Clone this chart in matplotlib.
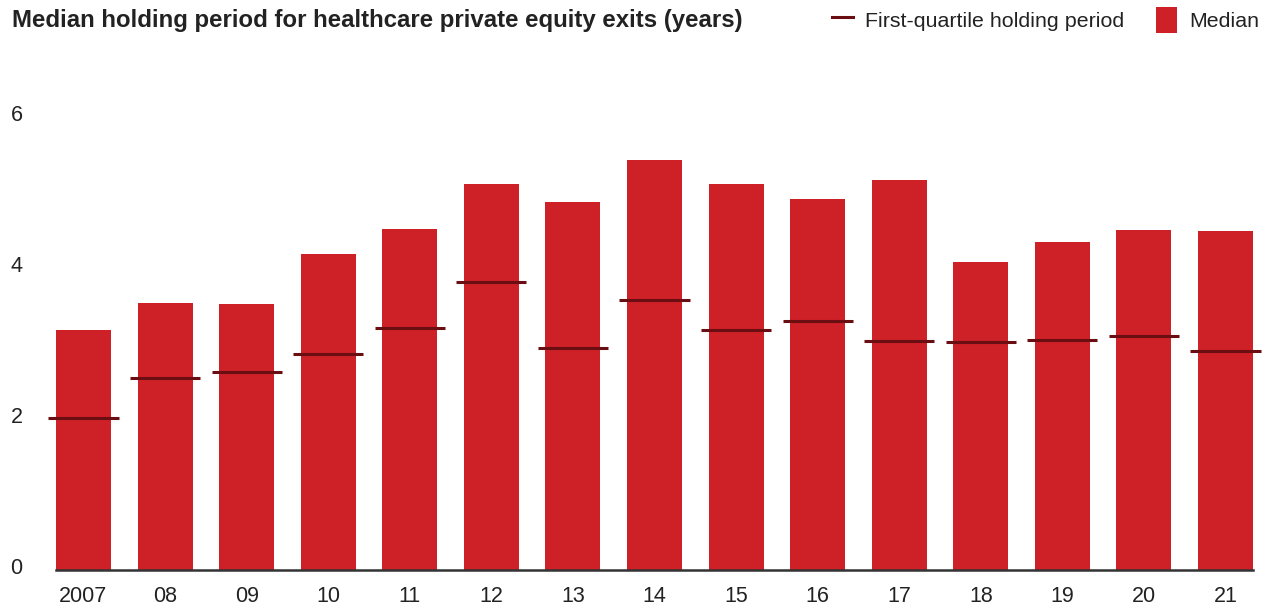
import numpy as np
import matplotlib.pyplot as plt
import matplotlib.transforms as mtransforms
from matplotlib.lines import Line2D
from matplotlib.patches import Patch

plt.rcParams['font.family'] = ['Liberation Sans', 'DejaVu Sans']

years = ['2007', '08', '09', '10', '11', '12', '13', '14', '15', '16', '17', '18', '19', '20', '21']
median = [3.18, 3.54, 3.52, 4.19, 4.52, 5.11, 4.87, 5.43, 5.11, 4.91, 5.17, 4.08, 4.34, 4.50, 4.49]
first_quartile = [2.01, 2.54, 2.62, 2.86, 3.21, 3.81, 2.94, 3.58, 3.18, 3.30, 3.03, 3.02, 3.05, 3.10, 2.90]

BAR_RED = '#cd2027'
LINE_RED = '#6b0e12'
TEXT = '#222222'

fig = plt.figure(figsize=(12.7, 6.07), dpi=100)
ax = fig.add_axes([56 / 1270, 1 - 570 / 607, (1253 - 56) / 1270, (570 - 117) / 607])

x = np.arange(len(years))
bw = 0.674
ax.bar(x, median, width=bw, color=BAR_RED, linewidth=0, zorder=2)
ax.hlines(first_quartile, x - 0.43, x + 0.43, color=LINE_RED, linewidth=2.2,
          zorder=3, clip_on=False)

ax.set_xlim(-bw / 2, len(years) - 1 + bw / 2)
ax.set_ylim(0, 6)
ax.set_yticks([0, 2, 4, 6])
ax.set_xticks(x)
ax.set_xticklabels(years)

for s in ['top', 'right', 'left']:
    ax.spines[s].set_visible(False)
ax.spines['bottom'].set_color('#333333')
ax.spines['bottom'].set_linewidth(1.8)
ax.spines['bottom'].set_zorder(4)

ax.tick_params(axis='y', length=0, pad=24, labelsize=15.5, labelcolor=TEXT)
ax.tick_params(axis='x', length=0, pad=11.5, labelsize=15.5, labelcolor=TEXT)
# y labels sit a few pixels above their gridline value in the original
shift = mtransforms.ScaledTranslation(0, 4 / 100, fig.dpi_scale_trans)
for lbl in ax.get_yticklabels():
    lbl.set_transform(lbl.get_transform() + shift)

fig.text(12 / 1270, 1 - 21 / 607, 'Median holding period for healthcare private equity exits (years)',
         fontsize=17.3, fontweight='bold', color=TEXT, va='center', ha='left')

handles = [Line2D([0], [0], color=LINE_RED, linewidth=2.2),
           Patch(facecolor=BAR_RED, edgecolor='none')]
fig.legend(handles, ['First-quartile holding period', 'Median'], ncol=2,
           loc='center right', bbox_to_anchor=(1259 / 1270, 1 - 20 / 607),
           frameon=False, fontsize=15.4, handlelength=1.0, handleheight=1.45,
           handletextpad=0.55, columnspacing=1.47, labelcolor=TEXT,
           borderpad=0, borderaxespad=0)

fig.savefig('out.png', dpi=100)
